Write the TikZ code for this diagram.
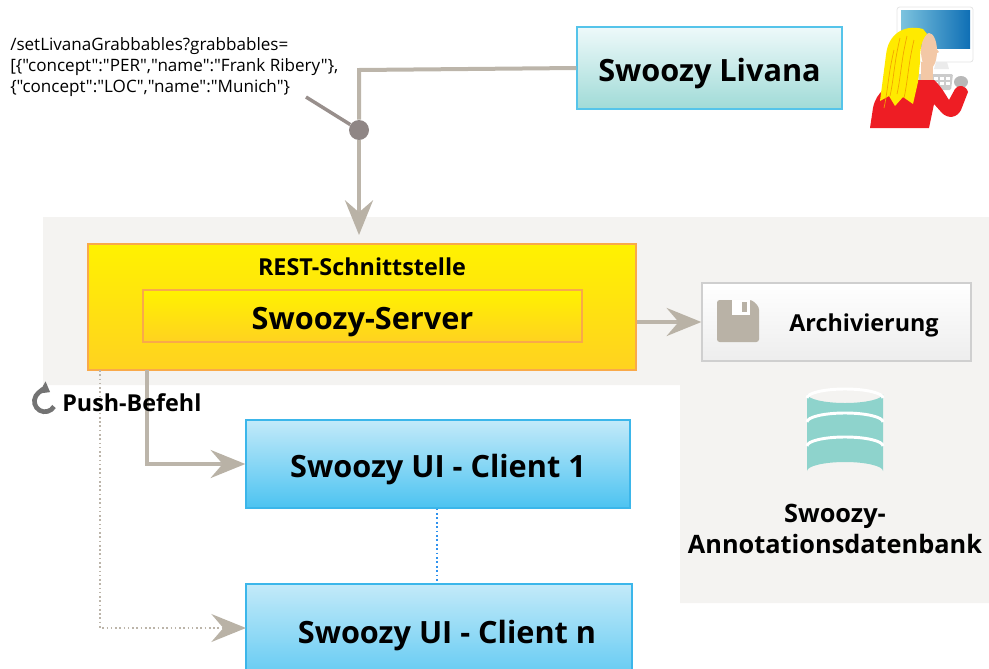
\documentclass[tikz,border=0pt]{standalone}
\usepackage{fontspec}
\setmainfont{Open Sans}
\newfontfamily\urlfont{Open Sans}[Ligatures=TeXOff]
\usetikzlibrary{arrows.meta,calc}

\definecolor{linegray}{HTML}{BCB5AA}
\definecolor{tipgray}{HTML}{B9B2A6}
\definecolor{dotgray}{HTML}{8F8685}
\definecolor{panelgray}{HTML}{F4F3F1}
\definecolor{ytop}{HTML}{FFF200}
\definecolor{ybot}{HTML}{FFD220}
\definecolor{yborder}{HTML}{F9A94A}
\definecolor{ltop}{HTML}{EEF9FA}
\definecolor{lbot}{HTML}{A0DBD7}
\definecolor{lborder}{HTML}{55C4EA}
\definecolor{ctop}{HTML}{C3EAF9}
\definecolor{cbot}{HTML}{4CC3F1}
\definecolor{cborder}{HTML}{3BB6EA}
\definecolor{aborder}{HTML}{CFCFCF}
\definecolor{dbteal}{HTML}{8ED3CC}
\definecolor{hair}{HTML}{FFEA00}
\definecolor{hairline}{HTML}{F4A300}
\definecolor{shirt}{HTML}{EE1D24}
\definecolor{skin}{HTML}{F3C8A6}
\definecolor{screenA}{HTML}{7CC3DE}
\definecolor{screenB}{HTML}{0F6FB5}

\tikzset{
  conn/.style={draw=linegray, line width=3pt},
  bigtip/.style={-{Stealth[length=26pt,width=21pt,inset=9pt,fill=tipgray,color=tipgray]}},
  ybox/.style={draw=yborder, line width=1pt, top color=ytop, bottom color=ybot},
  clientbox/.style={draw=cborder, line width=1pt, top color=ctop, bottom color=cbot},
  bigtext/.style={font=\bfseries\fontsize{23}{27}\selectfont, text height=20pt, text depth=0pt},
  midtext/.style={font=\bfseries\fontsize{17.5}{21}\selectfont},
}

\begin{document}
\begin{tikzpicture}[x=0.75pt,y=-0.75pt]
\useasboundingbox (0,0) rectangle (989,668);
\clip (0,0) rectangle (989,668);

% server area background
\fill[panelgray] (43,217) -- (989,217) -- (989,603) -- (680,603) -- (680,385) -- (43,385) -- cycle;

% REST interface with server
\node[ybox, minimum width=411pt, minimum height=94.5pt] (rest) at (362,307) {};
\node[midtext] (restlabel) at (362,267) {REST-Schnittstelle};
\node[ybox, minimum width=329.25pt, minimum height=39pt, bigtext] (server) at (362.5,316) {Swoozy-Server};

% Livana
\node[draw=lborder, line width=1pt, top color=ltop, bottom color=lbot,
      minimum width=198.75pt, minimum height=61.5pt, bigtext] (livana) at (709.5,68) {Swoozy Livana};

% archive
\node[draw=aborder, line width=1pt, top color=white, bottom color=black!7,
      minimum width=201.75pt, minimum height=58.5pt] (archive) at (836.5,322) {};
\node[midtext] (archlabel) at (864,325) {Archivierung};
% floppy disk icon
\fill[tipgray, rounded corners=2pt] (717,300) -- (752,300) -- (759,307) -- (759,342) -- (717,342) -- cycle;
\fill[white] (732,300) rectangle (750,315);
\fill[tipgray] (742,302) rectangle (747,312);

% clients
\node[clientbox, minimum width=288pt, minimum height=66pt, bigtext] (client1) at (438,464) {Swoozy UI - Client 1};
\node[clientbox, minimum width=289.5pt, minimum height=87pt] (clientn) at (439,642) {};
\node[bigtext] (clientnlabel) at (447,630) {Swoozy UI - Client n};

% database
\fill[dbteal] (807,394) -- (807,471) arc[start angle=180, end angle=360, x radius=38, y radius=9]
      -- (883,394) arc[start angle=0, end angle=180, x radius=38, y radius=9] -- cycle;
\foreach \yy in {398,422,446}
  \draw[white, line width=2.2pt] (807,\yy) arc[start angle=180, end angle=360, x radius=38, y radius=9];
\node[align=center, font=\bfseries\fontsize{19}{23.5}\selectfont] (dblabel) at (835,529) {Swoozy-\\Annotationsdatenbank};

% REST call from Livana
\node[align=left, anchor=north west, inner sep=0pt,
      font=\urlfont\fontsize{12.8}{16}\selectfont] (url) at (10,37)
  {/setLivanaGrabbables?grabbables=\\
   {[}\{"concept":"PER","name":"Frank Ribery"\},\\
   \{"concept":"LOC","name":"Munich"\}};
\coordinate (bend) at (359,70);
\coordinate (urlend) at (306,97);
\coordinate (restin) at (359,235);
\node[circle, fill=dotgray, minimum size=15pt, inner sep=0pt] (joint) at (359,130) {};
\draw[conn] (livana.west) -- (bend) -- (joint);
\draw[conn, bigtip] (joint) -- (restin);
\draw[draw=dotgray!80!linegray, line width=2.6pt] (urlend) -- (joint);

% archiving
\draw[conn, bigtip] (rest.east |- archive.west) -- (archive.west);

% push to clients
\coordinate (push1) at (147,370);
\coordinate (pushn) at (100,370);
\coordinate (clientnin) at (246,628);
\draw[conn, bigtip] (push1) |- (client1.west);
\draw[draw=linegray, line width=1.2pt, dotted, bigtip] (pushn) |- (clientnin);
\draw[draw=cborder!80!blue, line width=1.3pt, dotted] (client1.south -| 437,0) -- (clientn.north -| 437,0);

% push label with refresh icon
\draw[black!55, line width=3.5pt, -{Triangle[length=7pt,width=10pt]}]
  (54,406.5) arc[start angle=30, end angle=300, radius=10.5];
\node[midtext, anchor=west, inner sep=0pt] (pushlabel) at (62,403) {Push-Befehl};

% user at a workstation
\filldraw[fill=white, draw=black!10, line width=0.6pt, rounded corners=2pt] (897,7) rectangle (973,62);
\shade[shading angle=120, left color=screenA, right color=screenB] (901,10) rectangle (970,48);
\fill[black!8] (936,62) -- (947,62) -- (949,69) -- (934,69) -- cycle;
\fill[black!20, rounded corners=1pt] (918,74) -- (953,74) -- (951,90) -- (920,90) -- cycle;
\foreach \kx in {922,928,934,940,946}
  \foreach \ky in {77,82}
    \fill[white] (\kx,\ky) rectangle ++(4,3);
\fill[black!28] (961,82) ellipse (7 and 6);
\fill[skin] (929,51) ellipse (8 and 18);
\fill[skin] (935,47) -- (939,52) -- (935,54) -- cycle;
\fill[skin] (921,62) rectangle (933,84);
\fill[shirt] (870,128) -- (873,108) .. controls (876,92) and (888,84) .. (905,80)
  -- (934,80) .. controls (941,86) and (945,94) .. (949,100) -- (955,89)
  .. controls (958,84) and (966,85) .. (968,92) -- (961,110)
  .. controls (957,118) and (948,119) .. (942,113) -- (934,104) -- (929,128) -- cycle;
\fill[hair] (923,29) .. controls (904,24) and (888,34) .. (886,55) -- (880,101)
  -- (889,96) -- (895,106) -- (903,97) -- (913,104) -- (918,82) -- (920,62)
  .. controls (920,50) and (921,40) .. (927,34) -- cycle;
\foreach \hx/\hy in {900/38,907/36,894/50,914/40}
  \draw[hairline, line width=0.5pt] (\hx,\hy) .. controls (\hx-6,\hy+25) and (\hx-6,\hy+40) .. (\hx-10,\hy+58);
\end{tikzpicture}
\end{document}
